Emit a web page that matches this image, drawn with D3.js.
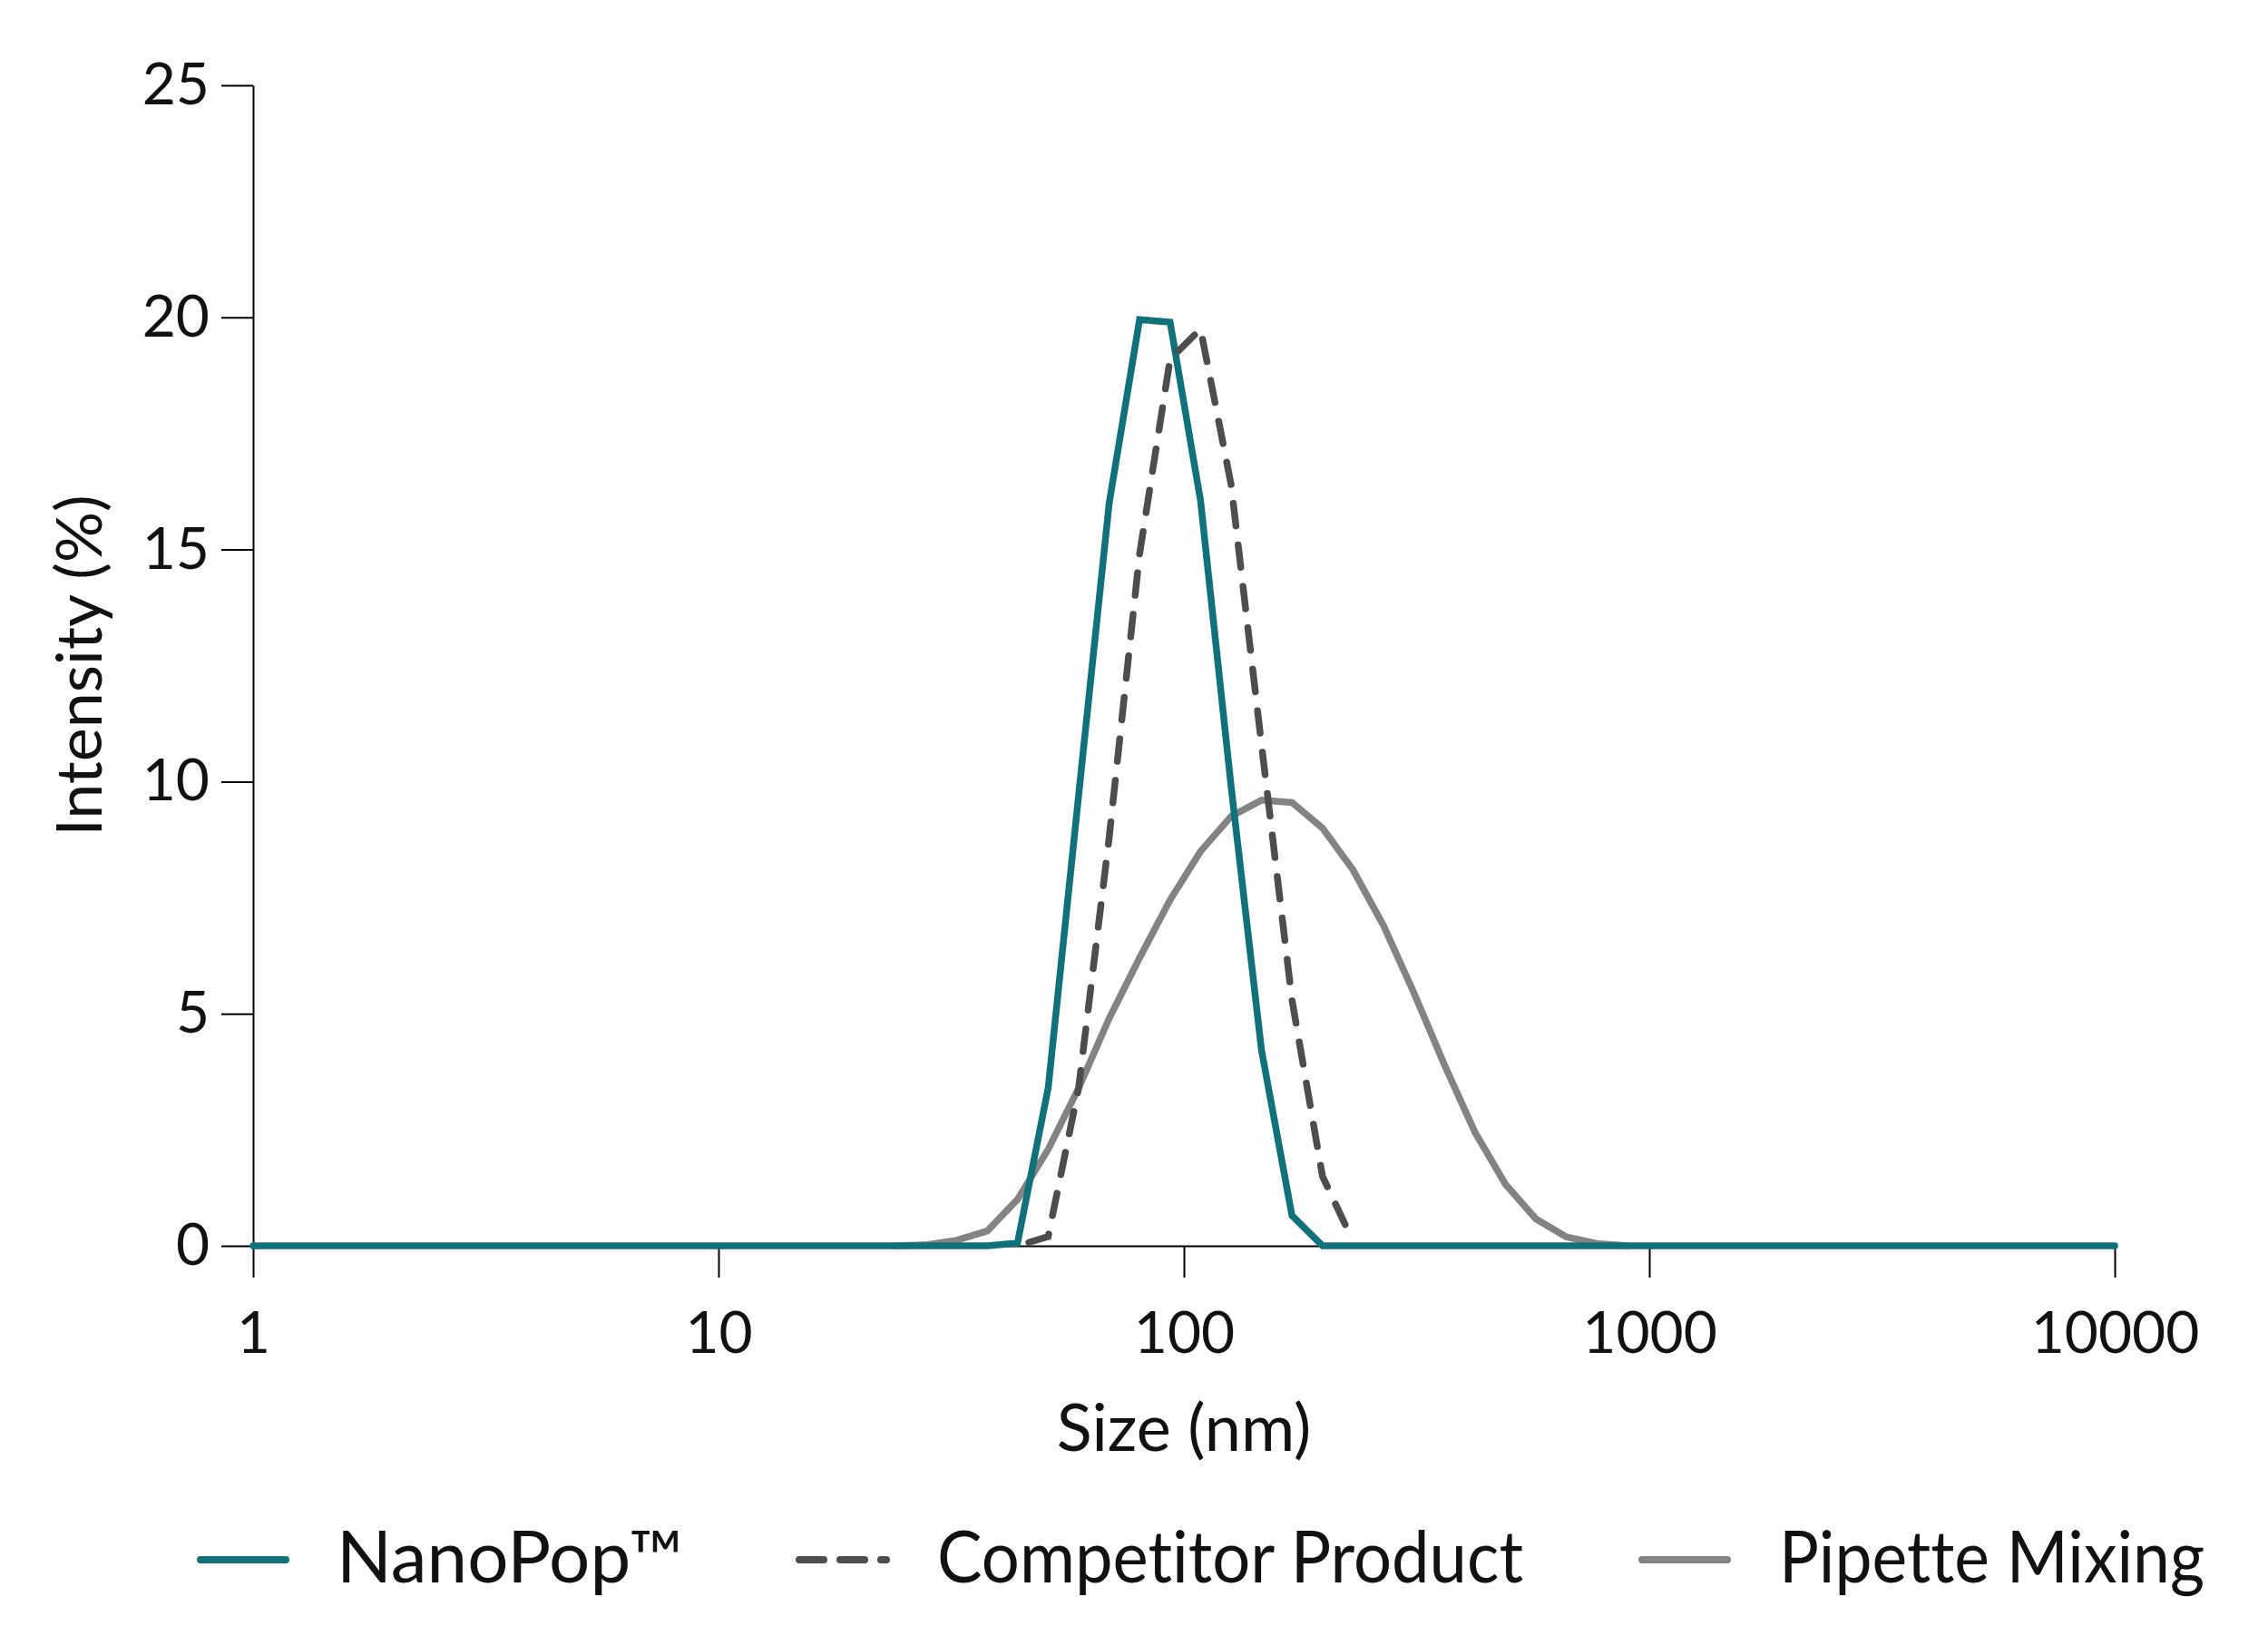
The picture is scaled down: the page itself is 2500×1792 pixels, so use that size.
<!DOCTYPE html>
<html>
<head>
<meta charset="utf-8">
<script src="https://cdn.jsdelivr.net/npm/d3@7"></script>
<style>
  body { margin: 0; background: #fff; }
  svg { display: block; font-family: Lato, "Open Sans", sans-serif; font-variant-ligatures: none; }
</style>
</head>
<body>
<svg id="chart" width="2500" height="1792"></svg>
<script>
// size bins (nm)
const sizes = [1, 24.0, 27.9, 32.5, 37.8, 43.9, 51.1, 59.4, 69.1, 80.3, 93.4, 108.6, 126.3,
               146.8, 170.7, 198.5, 230.8, 268.4, 312.1, 362.9, 421.9, 490.6, 570.4, 663.2,
               771.2, 896.7, 1043, 10000];

// intensity (%) per bin, null = not drawn
const nanoPop = [0, 0, 0, 0, 0, 0.06, 3.4, 9.7, 16.0, 19.95, 19.9, 16.05, 9.9,
                 4.22, 0.65, 0, 0, 0, 0, 0, 0, 0, 0, 0,
                 0, 0, 0, 0];
const competitor = [null, null, null, null, null, 0, 0.2, 3.4, 8.8, 14.9, 19.1, 19.75, 16.4,
                    10.8, 5.3, 1.5, 0.1, null, null, null, null, null, null, null,
                    null, null, null, null];
const pipette = [null, 0, 0.02, 0.12, 0.32, 1.0, 2.08, 3.4, 4.9, 6.2, 7.45, 8.5, 9.25,
                 9.6, 9.55, 9.0, 8.1, 6.9, 5.45, 3.9, 2.45, 1.33, 0.58, 0.19,
                 0.05, 0, null, null];

const xTicks = [1, 10, 100, 1000, 10000];
const yTicks = [0, 5, 10, 15, 20, 25];
const seriesNames = ["NanoPop™", "Competitor Product", "Pipette Mixing"];

const svg = d3.select("#chart");

const x = d3.scaleLog().domain([1, 10000]).range([279, 2331]);
const y = d3.scaleLinear().domain([0, 25]).range([1373, 94]);

// axes
const xAxis = svg.append("g")
    .attr("transform", `translate(0,${y(0)})`)
    .call(d3.axisBottom(x).tickValues(xTicks).tickFormat(d3.format("d"))
        .tickSizeInner(35).tickSizeOuter(0).tickPadding(38));

const yAxis = svg.append("g")
    .attr("transform", `translate(${x(1)},0)`)
    .call(d3.axisLeft(y).tickValues(yTicks)
        .tickSizeInner(35).tickSizeOuter(0).tickPadding(13));

[xAxis, yAxis].forEach(a => {
    a.selectAll("path.domain").attr("stroke", "#000").attr("stroke-width", 2);
    a.selectAll(".tick line").attr("stroke", "#000").attr("stroke-width", 2);
    a.selectAll(".tick text")
        .attr("fill", "#111")
        .attr("font-size", 64)
        .attr("font-family", "Lato, sans-serif");
});

// axis titles
svg.append("text")
    .attr("x", (x(1) + x(10000)) / 2)
    .attr("y", 1599)
    .attr("text-anchor", "middle")
    .attr("font-size", 72)
    .attr("fill", "#111")
    .text("Size (nm)");

svg.append("text")
    .attr("transform", `translate(112,${(y(0) + y(25)) / 2}) rotate(-90)`)
    .attr("text-anchor", "middle")
    .attr("font-size", 70)
    .attr("fill", "#111")
    .text("Intensity (%)");

// lines
const line = d3.line()
    .defined(d => d[1] != null)
    .x(d => x(d[0]))
    .y(d => y(d[1]));

const series = [
    { name: seriesNames[2], values: pipette, color: "#838383", dash: null },
    { name: seriesNames[0], values: nanoPop, color: "#10717b", dash: null },
    { name: seriesNames[1], values: competitor, color: "#4d4d4d", dash: "25 21", offset: 33 }
];

svg.append("g").selectAll("path")
    .data(series)
    .join("path")
    .attr("d", s => line(sizes.map((v, i) => [v, s.values[i]])))
    .attr("fill", "none")
    .attr("stroke", s => s.color)
    .attr("stroke-width", 7.5)
    .attr("stroke-linejoin", "miter")
    .attr("stroke-linecap", "round")
    .attr("stroke-dasharray", s => s.dash)
    .attr("stroke-dashoffset", s => s.offset || 0);

// legend
const legendItems = [
    { name: seriesNames[0], color: "#10717b", dash: null, x1: 221, x2: 315, tx: 371, tw: 382 },
    { name: seriesNames[1], color: "#4d4d4d", dash: "27 18", x1: 881, x2: 977, tx: 1033, tw: 646 },
    { name: seriesNames[2], color: "#838383", dash: null, x1: 1810, x2: 1904, tx: 1961, tw: 469 }
];

const legend = svg.append("g").selectAll("g")
    .data(legendItems)
    .join("g");

legend.append("line")
    .attr("x1", d => d.x1)
    .attr("x2", d => d.x2)
    .attr("y1", 1719)
    .attr("y2", 1719)
    .attr("stroke", d => d.color)
    .attr("stroke-width", 8)
    .attr("stroke-linecap", "round")
    .attr("stroke-dasharray", d => d.dash);

legend.append("text")
    .attr("x", d => d.tx)
    .attr("y", 1744)
    .attr("font-size", 80)
    .attr("fill", "#111")
    .attr("textLength", d => d.tw)
    .attr("lengthAdjust", "spacingAndGlyphs")
    .text(d => d.name);
</script>
</body>
</html>
